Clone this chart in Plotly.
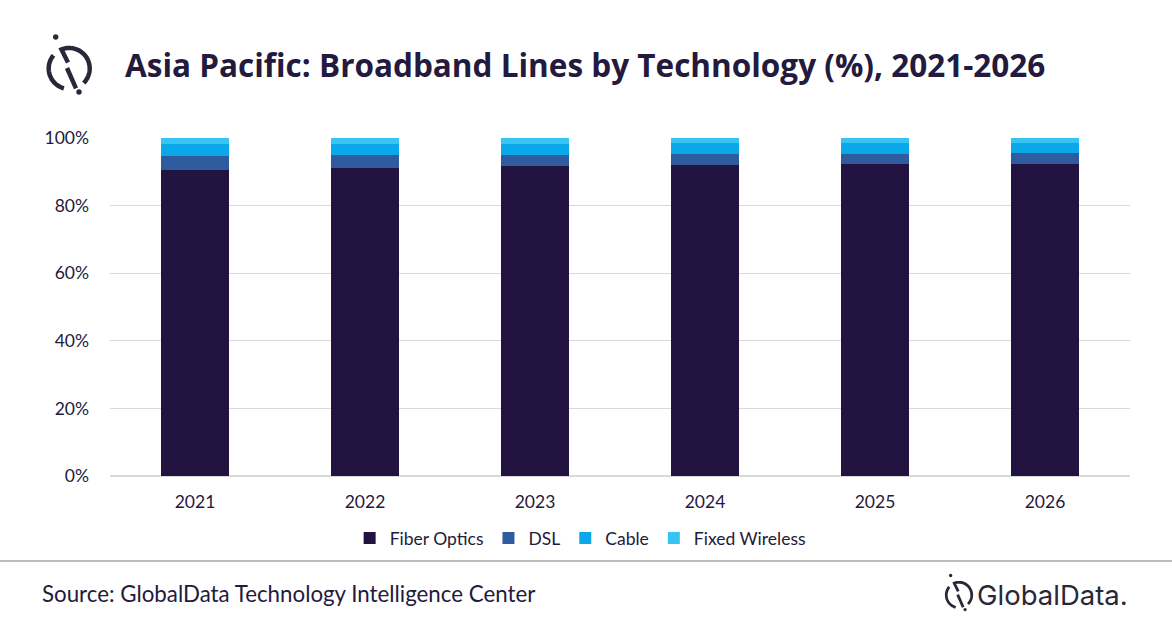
import numpy as np
import plotly.graph_objects as go

years = ["2021", "2022", "2023", "2024", "2025", "2026"]
fiber = [90.5, 91.1, 91.7, 92.0, 92.3, 92.3]
dsl = [4.2, 3.9, 3.3, 3.3, 3.0, 3.3]
cable = [3.5, 3.2, 3.2, 3.1, 3.2, 2.9]
fixed_wireless = [1.8, 1.8, 1.8, 1.6, 1.5, 1.5]
y_ticks = [0, 20, 40, 60, 80, 100]
y_ticklabels = ["0%", "20%", "40%", "60%", "80%", "100%"]

series = [
    ("Fiber Optics", fiber, "#221340"),
    ("DSL", dsl, "#2e5c9e"),
    ("Cable", cable, "#0aa8e8"),
    ("Fixed Wireless", fixed_wireless, "#35c4f4"),
]

W, H = 1172, 628
L, R, T, B = 110, 1130, 138, 476
TXT = "#231a3d"

fig = go.Figure()
for name, vals, col in series:
    fig.add_trace(go.Bar(x=years, y=vals, name=name, marker=dict(color=col, line=dict(width=0)),
                         width=0.4))


def px(x):
    return (x - L) / (R - L)


def py(y):
    return (B - y) / (B - T)


def to_path(pts):
    return "M " + " L ".join(f"{px(x):.5f},{py(y):.5f}" for x, y in pts)


shapes = []


def logo(cx, cy, s, w, color):
    r = 20.5 * s

    def arc(a0, a1, n=40):
        ang = np.radians(np.linspace(a0, a1, n))
        return [(cx + r * np.cos(a), cy - r * np.sin(a)) for a in ang]

    def pt(dx, dy):
        return (cx + dx * s, cy + dy * s)

    piece_a = [pt(-1.2, -6.0)] + arc(112, -45)
    piece_b = arc(140, 255)
    piece_c = [pt(-2.2, -0.5), pt(6.8, 19.8)]
    for p in (piece_a, piece_b, piece_c):
        shapes.append(dict(type="path", xref="paper", yref="paper", path=to_path(p),
                           line=dict(color=color, width=w)))
    for (dx, dy) in [(-13.5, -31.5), (9.8, 23.5)]:
        d = 2.7 * s
        x, y = pt(dx, dy)
        shapes.append(dict(type="circle", xref="paper", yref="paper",
                           x0=px(x - d), x1=px(x + d), y0=py(y + d), y1=py(y - d),
                           fillcolor=color, line=dict(width=0)))


logo(69.2, 68.5, 1.0, 4.5, "#2a2838")
logo(959, 595, 0.62, 2.8, "#2a2838")

# separator line
shapes.append(dict(type="line", xref="paper", yref="paper", x0=px(0), x1=px(W), y0=py(561), y1=py(561),
                   line=dict(color="#a6a6a6", width=1.5)))

annotations = [
    dict(text="<b>Asia Pacific: Broadband Lines by Technology (%), 2021-2026</b>", xref="paper", yref="paper",
         x=px(123), y=py(65), xanchor="left", yanchor="middle", showarrow=False,
         font=dict(family="Open Sans", size=31.5, color=TXT)),
    dict(text="Source: GlobalData Technology Intelligence Center", xref="paper", yref="paper",
         x=px(40), y=py(593), xanchor="left", yanchor="middle", showarrow=False,
         font=dict(family="Lato", size=22.3, color=TXT)),
    dict(text="GlobalData.", xref="paper", yref="paper",
         x=px(975), y=py(595), xanchor="left", yanchor="middle", showarrow=False,
         font=dict(family="Inter", size=27.5, color="#2a2838")),
]

fig.update_layout(
    width=W, height=H,
    barmode="stack",
    paper_bgcolor="white", plot_bgcolor="white",
    margin=dict(l=L, r=W - R, t=T, b=H - B, pad=0, autoexpand=False),
    font=dict(family="Lato", size=17, color=TXT),
    bargap=0.6,
    showlegend=True,
    legend=dict(orientation="h", xref="container", yref="container", x=0.495, xanchor="center",
                y=1 - 538 / H, yanchor="middle", font=dict(family="Lato", size=17.5, color=TXT),
                itemwidth=30, traceorder="normal", itemsizing="constant"),
    xaxis=dict(type="category", showgrid=False, showline=False, ticks="", ticklabelstandoff=13,
               tickfont=dict(family="Lato", size=17.5, color=TXT)),
    yaxis=dict(range=[0, 100], tickvals=y_ticks, ticktext=y_ticklabels, showgrid=True,
               gridcolor="#d9d9d9", gridwidth=1, zeroline=True, zerolinecolor="#d9d9d9",
               showline=False, ticks="", ticklabelstandoff=20,
               tickfont=dict(family="Lato", size=17.5, color=TXT)),
    shapes=shapes,
    annotations=annotations,
)

fig.write_html("out.html", config={"displayModeBar": False},
               post_script="document.body.style.margin='0';document.body.style.padding='0';")
